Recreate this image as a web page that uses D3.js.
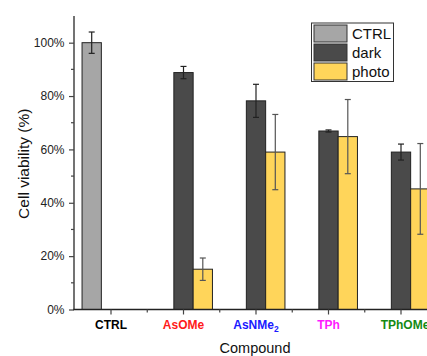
<!DOCTYPE html>
<html>
<head>
<meta charset="utf-8">
<script src="https://cdn.jsdelivr.net/npm/d3@7"></script>
<style>
  body { margin: 0; background: #fff; }
  text { font-family: "Liberation Sans", Arial, sans-serif; }
</style>
</head>
<body>
<div id="chart"></div>
<script>
// data
const compounds = ["CTRL", "AsOMe", "AsNMe2", "TPh", "TPhOMe"];
const labelColors = ["#000000", "#ff1a1a", "#1a1aff", "#ff1aff", "#138a13"];
const series = ["CTRL", "dark", "photo"];
const seriesColors = ["#a6a6a6", "#4a4a4a", "#ffd55a"];
const ctrlVals = [100, null, null, null, null];
const ctrlErr = [4, null, null, null, null];
const darkVals = [null, 88.8, 78.2, 66.9, 59.0];
const darkErr = [null, 2.3, 6.2, 0.4, 3.0];
const photoVals = [null, 15.1, 59.0, 64.8, 45.2];
const photoErr = [null, 4.2, 14.1, 13.9, 17.0];
const yTicks = [0, 20, 40, 60, 80, 100];

const width = 427, height = 356;
const margin = {top: 16, left: 74, bottom: 46.5};

let svg = d3.select("#chart").append("svg")
    .attr("width", width)
    .attr("height", height);

let y = d3.scaleLinear()
    .domain([0, 110])
    .range([height - margin.bottom, margin.top]);

let x = d3.scaleBand()
    .domain(compounds)
    .range([74.75, 74.75 + 72.5 * compounds.length])
    .padding(0);

let xs = d3.scaleBand()
    .domain(series)
    .range([7.3, 72.5 - 7.3]);

let vals = [ctrlVals, darkVals, photoVals];
let errs = [ctrlErr, darkErr, photoErr];

let rows = [];
series.forEach(function(s, i) {
    compounds.forEach(function(c, j) {
        if (vals[i][j] != null) rows.push({c: c, s: s, v: vals[i][j], e: errs[i][j], col: seriesColors[i]});
    });
});

// bars
svg.append("g").selectAll("rect").data(rows).enter()
    .append("rect")
    .attr("x", d => x(d.c) + xs(d.s))
    .attr("y", d => y(d.v))
    .attr("width", xs.bandwidth())
    .attr("height", d => y(0) - y(d.v))
    .attr("fill", d => d.col)
    .attr("stroke", "#222")
    .attr("stroke-width", 1);

// error bars
let eb = svg.append("g").selectAll("g").data(rows).enter().append("g")
    .attr("stroke", d => d.s === "photo" ? "#555" : "#222")
    .attr("stroke-width", 1.2);
eb.append("line")
    .attr("x1", d => x(d.c) + xs(d.s) + xs.bandwidth() / 2)
    .attr("x2", d => x(d.c) + xs(d.s) + xs.bandwidth() / 2)
    .attr("y1", d => y(d.v + d.e))
    .attr("y2", d => y(d.v - d.e));
[1, -1].forEach(function(sg) {
    eb.append("line")
        .attr("x1", d => x(d.c) + xs(d.s) + xs.bandwidth() / 2 - 3)
        .attr("x2", d => x(d.c) + xs(d.s) + xs.bandwidth() / 2 + 3)
        .attr("y1", d => y(d.v + sg * d.e))
        .attr("y2", d => y(d.v + sg * d.e));
});

// y axis
let yAxis = svg.append("g")
    .attr("transform", `translate(${margin.left},0)`)
    .call(d3.axisLeft(y).tickValues(yTicks).tickFormat(d => d + "%").tickSize(5).tickSizeOuter(0).tickPadding(4.5));
yAxis.select(".domain").attr("stroke", "#444").attr("stroke-width", 1.5)
    .attr("d", `M0,${margin.top}V${y(0)}`);
yAxis.selectAll(".tick line").attr("stroke", "#444").attr("stroke-width", 1.2);
yAxis.selectAll(".tick text").attr("fill", "#222").style("font-size", "12px")
    .style("font-family", "'Liberation Sans', Arial, sans-serif");
// minor y ticks
svg.append("g").selectAll("line").data([10, 30, 50, 70, 90]).enter()
    .append("line")
    .attr("x1", margin.left - 3).attr("x2", margin.left)
    .attr("y1", d => y(d)).attr("y2", d => y(d))
    .attr("stroke", "#444").attr("stroke-width", 1.2);

// x axis
let xAxis = svg.append("g")
    .attr("transform", `translate(0,${y(0)})`);
xAxis.append("line")
    .attr("x1", margin.left - 0.75).attr("x2", width)
    .attr("y1", 0).attr("y2", 0)
    .attr("stroke", "#222").attr("stroke-width", 1.5);
xAxis.selectAll(".maj").data(compounds).enter().append("line")
    .attr("x1", d => x(d) + x.bandwidth() / 2).attr("x2", d => x(d) + x.bandwidth() / 2)
    .attr("y1", 0).attr("y2", 5)
    .attr("stroke", "#444").attr("stroke-width", 1.2);
xAxis.selectAll(".min").data(compounds).enter().append("line")
    .attr("x1", d => x(d) + x.bandwidth()).attr("x2", d => x(d) + x.bandwidth())
    .attr("y1", 0).attr("y2", 3)
    .attr("stroke", "#444").attr("stroke-width", 1.2);

let xl = xAxis.selectAll(".lab").data(compounds).enter().append("text")
    .attr("x", d => x(d) + x.bandwidth() / 2 + (d === "TPhOMe" ? 4 : 0))
    .attr("y", 19.5)
    .attr("text-anchor", "middle")
    .attr("fill", (d, i) => labelColors[i])
    .style("font-size", "12px")
    .style("font-weight", "bold");
xl.each(function(d) {
    let t = d3.select(this);
    if (d === "AsNMe2") {
        t.append("tspan").text("AsNMe");
        t.append("tspan").attr("dy", 3).style("font-size", "8.5px").text("2");
    } else {
        t.text(d);
    }
});

// axis titles
svg.append("text")
    .attr("x", 255).attr("y", 353)
    .attr("text-anchor", "middle")
    .style("font-size", "14.5px")
    .attr("fill", "#111")
    .text("Compound");

svg.append("text")
    .attr("transform", `translate(29, ${(margin.top + y(0)) / 2 + 1}) rotate(-90)`)
    .attr("text-anchor", "middle")
    .style("font-size", "15.5px")
    .attr("fill", "#111")
    .text("Cell viability (%)");

// legend
let legend = svg.append("g").attr("transform", "translate(311.5,23)");
legend.append("rect")
    .attr("width", 82).attr("height", 58.5)
    .attr("fill", "#fff").attr("stroke", "#333").attr("stroke-width", 1);
series.forEach(function(s, i) {
    legend.append("rect")
        .attr("x", 2.5).attr("y", 2 + i * 19)
        .attr("width", 33).attr("height", 17)
        .attr("fill", seriesColors[i]).attr("stroke", "#333").attr("stroke-width", 1);
    legend.append("text")
        .attr("x", 40.5).attr("y", 16 + i * 19)
        .style("font-size", "15px")
        .attr("fill", "#111")
        .text(s);
});
</script>
</body>
</html>
